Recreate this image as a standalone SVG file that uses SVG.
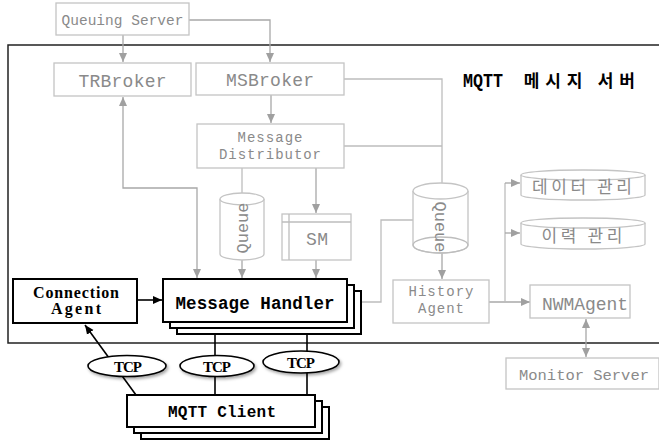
<svg xmlns="http://www.w3.org/2000/svg" width="659" height="443" viewBox="0 0 659 443">
<style>
.gb{fill:#fff;stroke:#c4c4c4;stroke-width:1.3}
.gt{font-family:"Liberation Mono",monospace;fill:#8a8a8a;text-anchor:middle}
.kt{font-family:"Noto Sans CJK KR",sans-serif;fill:#8a8a8a;text-anchor:middle;font-size:17px}
.gl{fill:none;stroke:#bdbdbd;stroke-width:1.3}
.ga{fill:none;stroke:#a8a8a8;stroke-width:1.3}
.bb{fill:#fff;stroke:#000;stroke-width:2}
.bt{font-family:"Liberation Serif",serif;font-weight:bold;fill:#000;text-anchor:middle}
.bm{font-family:"Liberation Mono",monospace;font-weight:bold;fill:#000;text-anchor:middle}
.bl{fill:none;stroke:#000;stroke-width:1.6}
</style>
<defs>
<marker id="ag" markerWidth="10" markerHeight="10" refX="9" refY="5" orient="auto" markerUnits="userSpaceOnUse"><path d="M0,1 L9,5 L0,9 Z" fill="#a0a0a0"/></marker>
<marker id="ags" markerWidth="10" markerHeight="10" refX="9" refY="5" orient="auto-start-reverse" markerUnits="userSpaceOnUse"><path d="M0,1 L9,5 L0,9 Z" fill="#a0a0a0"/></marker>
<marker id="ab" markerWidth="10" markerHeight="10" refX="9" refY="5" orient="auto" markerUnits="userSpaceOnUse"><path d="M0,1 L9,5 L0,9 Z" fill="#000"/></marker>
<filter id="sh" x="-20%" y="-40%" width="140%" height="180%"><feDropShadow dx="1.5" dy="2" stdDeviation="1.5" flood-color="#000" flood-opacity="0.35"/></filter>
</defs>

<g id="server-boundary">
<path d="M660,45 H8 V343 H660" fill="none" stroke="#222" stroke-width="1.5"/>
<text y="87" font-family="Liberation Mono,Noto Sans CJK KR,monospace" font-weight="bold" font-size="20"><tspan x="463" textLength="40" lengthAdjust="spacingAndGlyphs">MQTT</tspan><tspan x="514" font-size="17" font-family="Noto Sans CJK KR,sans-serif" textLength="121" lengthAdjust="spacing"> 메시지 서버</tspan></text>
</g>

<g id="connectors">
<path class="ga" d="M123,35 V62" marker-end="url(#ag)"/>
<path class="ga" d="M189,20 H270 V62" marker-end="url(#ag)"/>
<path class="ga" d="M271,95 V123" marker-end="url(#ag)"/>
<path class="gl" d="M344,79 H442 V184"/>
<path class="gl" d="M344,146 H442"/>
<path class="ga" d="M123,97 V188 H197 V278" marker-start="url(#ags)" marker-end="url(#ag)"/>
<path class="gl" d="M242,168 V194"/>
<path class="ga" d="M242,260 V278" marker-end="url(#ag)"/>
<path class="ga" d="M316,168 V213" marker-end="url(#ag)"/>
<path class="ga" d="M316,260 V278" marker-end="url(#ag)"/>
<path class="ga" d="M442,252 V279" marker-end="url(#ag)"/>
<path class="gl" d="M413,220 H381 V302 H347"/>
<path class="ga" d="M489,302 H530" marker-end="url(#ag)"/>
<path class="gl" d="M505,302 V183"/>
<path class="ga" d="M505,183 H520" marker-end="url(#ag)"/>
<path class="ga" d="M505,233 H520" marker-end="url(#ag)"/>
<path class="ga" d="M586,319 V357" marker-start="url(#ags)" marker-end="url(#ag)"/>
<path class="bl" d="M137,300 H162" marker-end="url(#ab)"/>
<path class="bl" d="M136,395 L85,325" marker-end="url(#ab)"/>
<path class="bl" d="M215,395 V323" marker-end="url(#ab)"/>
<path class="bl" d="M307,395 V322"/>
</g>

<g id="queuing-server">
<rect class="gb" x="56" y="3" width="133" height="32"/>
<text class="gt" x="122.5" y="25" font-size="14.5" textLength="122">Queuing Server</text>
</g>

<g id="trbroker">
<rect class="gb" x="54" y="63" width="137" height="33"/>
<text class="gt" x="122.5" y="87" font-size="18" textLength="88">TRBroker</text>
</g>

<g id="msbroker">
<rect class="gb" x="196" y="63" width="148" height="32"/>
<text class="gt" x="270" y="86" font-size="18" textLength="88">MSBroker</text>
</g>

<g id="message-distributor">
<rect class="gb" x="197" y="124" width="147" height="44"/>
<text class="gt" x="270" y="142" font-size="14" textLength="65">Message</text>
<text class="gt" x="270" y="159" font-size="14" textLength="102">Distributor</text>
</g>

<g id="queue-1">
<path class="gb" d="M220,199 V254 A22,6 0 0 0 264,254 V199"/>
<ellipse class="gb" cx="242" cy="199" rx="22" ry="6"/>
<text class="gt" font-size="17" transform="translate(248,228) rotate(-90)" textLength="51">Queue</text>
</g>

<g id="sm">
<rect class="gb" x="282" y="214" width="69" height="46"/>
<path class="gl" d="M289,214 V260 M282,222 H351"/>
<text class="gt" x="317" y="245" font-size="18" textLength="22">SM</text>
</g>

<g id="queue-2">
<path class="gb" d="M413,191 V245 A27.5,8 0 0 0 468,245 V191"/>
<ellipse class="gb" cx="440.5" cy="191" rx="27.5" ry="8"/>
<ellipse class="gl" cx="440.5" cy="245" rx="27.5" ry="8"/>
<text class="gt" font-size="17" transform="translate(435,227) rotate(90)" textLength="51">Queue</text>
</g>

<g id="history-agent">
<rect class="gb" x="393" y="280" width="96" height="43"/>
<text class="gt" x="441" y="296" font-size="14" textLength="65">History</text>
<text class="gt" x="441" y="313" font-size="14" textLength="46">Agent</text>
</g>

<g id="data-mgmt">
<path class="gb" d="M521,175 V195 A62,5 0 0 0 645,195 V175"/>
<ellipse class="gb" cx="583" cy="175" rx="62" ry="5"/>
<text class="kt" x="582" y="193" textLength="100" lengthAdjust="spacing">데이터 관리</text>
</g>

<g id="history-mgmt">
<path class="gb" d="M521,223 V244 A62,5 0 0 0 645,244 V223"/>
<ellipse class="gb" cx="583" cy="223" rx="62" ry="5"/>
<text class="kt" x="582" y="242" textLength="81" lengthAdjust="spacing">이력 관리</text>
</g>

<g id="nwmagent">
<rect class="gb" x="530" y="285" width="100" height="33"/>
<text class="gt" x="585" y="310" font-size="18" textLength="86">NWMAgent</text>
</g>

<g id="monitor-server">
<rect class="gb" x="506" y="358" width="153" height="31"/>
<text class="gt" x="584" y="380" font-size="15.5" textLength="130">Monitor Server</text>
</g>

<g id="connection-agent">
<rect class="bb" x="13" y="279" width="124" height="44"/>
<text class="bt" x="76" y="298" font-size="16" textLength="86">Connection</text>
<text class="bt" x="76" y="314" font-size="16" textLength="50">Agent</text>
</g>

<g id="message-handler">
<rect class="bb" x="177" y="291" width="184" height="43"/>
<rect class="bb" x="170" y="285" width="184" height="43"/>
<rect class="bb" x="163" y="279" width="184" height="43"/>
<text class="bm" x="255" y="309" font-size="17.5" textLength="159">Message Handler</text>
</g>

<g id="tcp-1">
<ellipse cx="127" cy="366" rx="39" ry="10.5" fill="#fff" stroke="#000" stroke-width="1.6" filter="url(#sh)"/>
<text class="bt" x="128" y="372" font-size="15" textLength="28">TCP</text>
</g>
<g id="tcp-2">
<ellipse cx="217" cy="366" rx="37" ry="10.5" fill="#fff" stroke="#000" stroke-width="1.6" filter="url(#sh)"/>
<text class="bt" x="217" y="372" font-size="15" textLength="28">TCP</text>
</g>
<g id="tcp-3">
<ellipse cx="301" cy="362" rx="38" ry="11" fill="#fff" stroke="#000" stroke-width="1.6" filter="url(#sh)"/>
<text class="bt" x="301" y="368" font-size="15" textLength="28">TCP</text>
</g>

<g id="mqtt-client">
<rect class="bb" x="141" y="407" width="188" height="32"/>
<rect class="bb" x="134" y="401" width="188" height="32"/>
<rect class="bb" x="127" y="395" width="188" height="32"/>
<text class="bm" x="222" y="417" font-size="16" textLength="108">MQTT Client</text>
</g>
</svg>
